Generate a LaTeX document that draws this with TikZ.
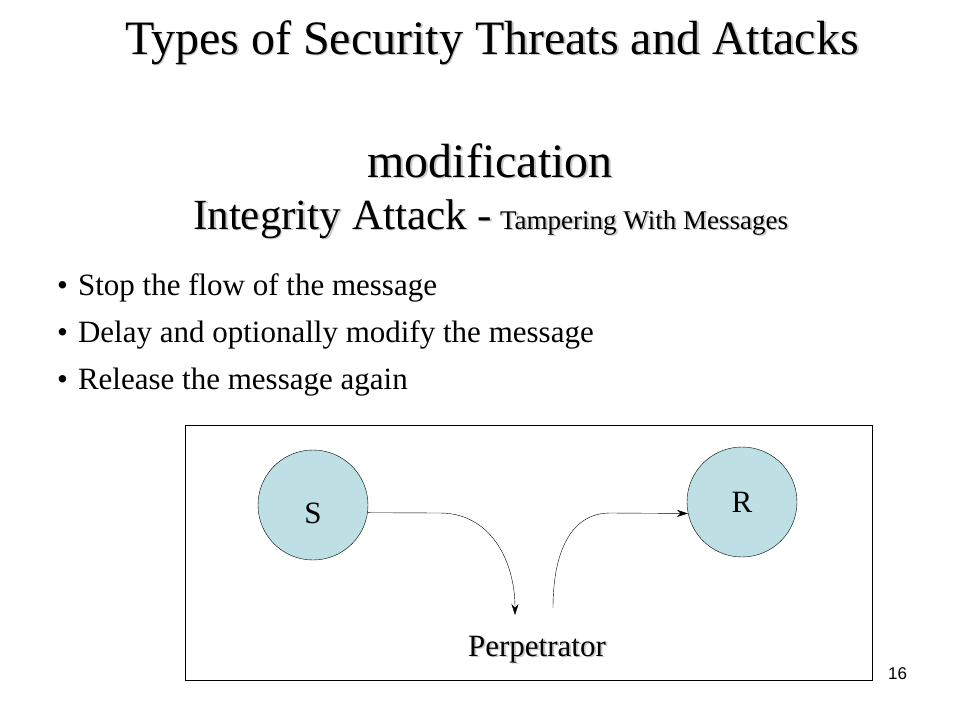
\documentclass[tikz,border=0pt]{standalone}
\usepackage{fontspec}
\setmainfont{Liberation Serif}
\newfontfamily\arialfont{Liberation Sans}
\usetikzlibrary{positioning}
\usetikzlibrary{arrows.meta}
\definecolor{nodeblue}{RGB}{190,224,228}
\newcommand{\shadowtext}[1]{\makebox[0pt][l]{\hspace{1.8pt}\raisebox{-1.8pt}{\textcolor{black!22}{#1}}}#1}

\begin{document}
\begin{tikzpicture}[x=1pt,y=-1pt,
    heading/.style={anchor=base,inner sep=0pt,font=\fontsize{48}{48}\selectfont},
    bullet/.style={anchor=base west,inner sep=0pt,font=\fontsize{31}{31}\selectfont},
    party/.style={circle,draw,thin,fill=nodeblue,minimum size=110pt,inner sep=0pt,font=\fontsize{31}{31}\selectfont},
    link/.style={thin,-{Stealth[length=11pt,width=7pt]}}]
  \useasboundingbox (0,0) rectangle (960,720);
  % title
  \node[heading] (title) at (492,54) {\shadowtext{Types of Security Threats and Attacks}};
  \node[heading] (kind) at (490,177) {\shadowtext{modification}};
  \node[anchor=base west,inner sep=0pt,font=\fontsize{43}{43}\selectfont] (integ) at (193,229)
    {\shadowtext{Integrity Attack -}};
  \node[anchor=base west,inner sep=0pt,font=\fontsize{27}{27}\selectfont] (tamper) at ([xshift=8pt]integ.base east)
    {\shadowtext{Tampering With Messages}};
  % bullets
  \node[bullet] (b1) at (57,295) {\textbullet\hspace{10pt}Stop the flow of the message};
  \node[bullet] (b2) at (57,342) {\textbullet\hspace{10pt}Delay and optionally modify the message};
  \node[bullet] (b3) at (57,389) {\textbullet\hspace{10pt}Release the message again};
  % diagram
  \draw[thin] (185,425) rectangle (872,680);
  \node[party,text height=38pt] (S) at (313,505) {S};
  \node[party] (R) at (742,502) {R};
  \node[anchor=base,inner sep=0pt,font=\fontsize{31}{31}\selectfont] (perp) at (537,656) {\shadowtext{Perpetrator}};
  \coordinate (m1) at (440,513);
  \coordinate (p1) at (515,615);
  \coordinate (p2) at (553,608);
  \coordinate (m2) at (610,513);
  \draw[link] (S.-8) -- (m1) .. controls (490,513) and (515,560) .. (p1);
  \draw[link] (p2) .. controls (553,550) and (572,513) .. (m2) -- (R.192);
  \node[anchor=base west,inner sep=0pt,font=\arialfont\fontsize{17}{17}\selectfont] (page) at (888,679) {16};
\end{tikzpicture}
\end{document}
